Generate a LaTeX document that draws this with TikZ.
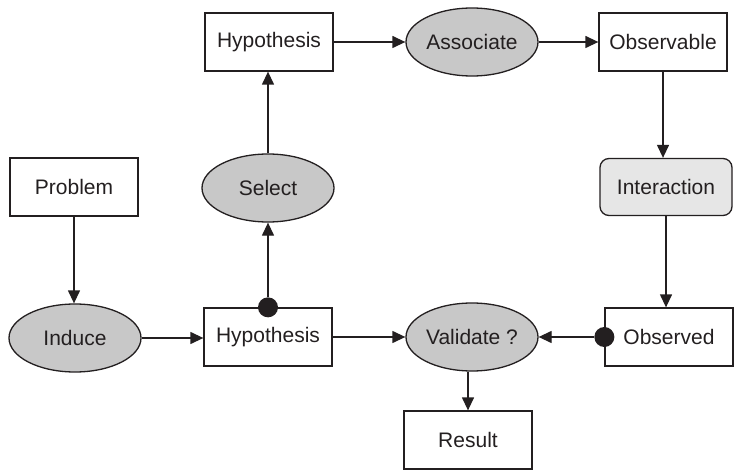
\documentclass[tikz,border=0pt]{standalone}
\usepackage{fontspec}
\setmainfont{Liberation Sans}
\usetikzlibrary{shapes.geometric,arrows.meta}
\definecolor{ink}{RGB}{35,31,32}
\definecolor{ovalfill}{RGB}{200,200,200}
\definecolor{softfill}{RGB}{230,230,230}
\tikzset{
  base/.style={draw=ink, line width=1.3pt, text=ink, inner sep=0pt,
    font=\fontsize{21}{25}\selectfont},
  stepbox/.style={base, rectangle, minimum width=128pt, minimum height=58pt},
  roundbox/.style={base, rectangle, rounded corners=9pt, fill=softfill,
    minimum width=132pt, minimum height=57pt},
  oval/.style={base, ellipse, fill=ovalfill, minimum width=132pt, minimum height=68pt},
  blob/.style={circle, fill=ink, draw=none, minimum size=20pt, inner sep=0pt},
  flow/.style={draw=ink, line width=1.3pt, -{Triangle[length=13pt,width=12pt]}},
}
\begin{document}
\begin{tikzpicture}[x=1pt,y=-1pt]
\useasboundingbox (0,0) rectangle (736,473);

% top row
\node[stepbox] (hypT)  at (269,42) {Hypothesis};
\node[oval]    (assoc) at (472,42) {Associate};
\node[stepbox] (obsv)  at (663,42) {Observable};

% middle row
\node[stepbox]  (prob)  at (74,187)  {Problem};
\node[oval]     (sel)   at (268,188) {Select};
\node[roundbox] (inter) at (666,187) {Interaction};

% bottom row
\node[oval]    (induce) at (75,338)  {Induce};
\node[stepbox] (hypB)   at (268,337) {Hypothesis};
\node[oval]    (valid)  at (472,337) {Validate ?};
\node[stepbox] (obsd)   at (669,337) {Observed};
\node[stepbox] (result) at (468,440) {Result};

% connector origins marked with a dot
\node[blob] (dotH) at (hypB.north) {};
\node[blob] (dotO) at (obsd.west) {};

% connectors
\draw[flow] (prob.south) -- (prob.south |- induce.north);
\draw[flow] (induce.east) -- (induce.east -| hypB.west);
\draw[flow] (hypB.east) -- (valid.west);
\draw[flow] (dotH) -- (sel.south);
\draw[flow] (sel.north) -- (sel.north |- hypT.south);
\draw[flow] (hypT.east) -- (assoc.west);
\draw[flow] (assoc.east) -- (assoc.east -| obsv.west);
\draw[flow] (obsv.south) -- (obsv.south |- inter.north);
\draw[flow] (inter.south) -- (inter.south |- obsd.north);
\draw[flow] (dotO) -- (valid.east);
\draw[flow] (valid.south -| result.north) -- (result.north);
\end{tikzpicture}
\end{document}
